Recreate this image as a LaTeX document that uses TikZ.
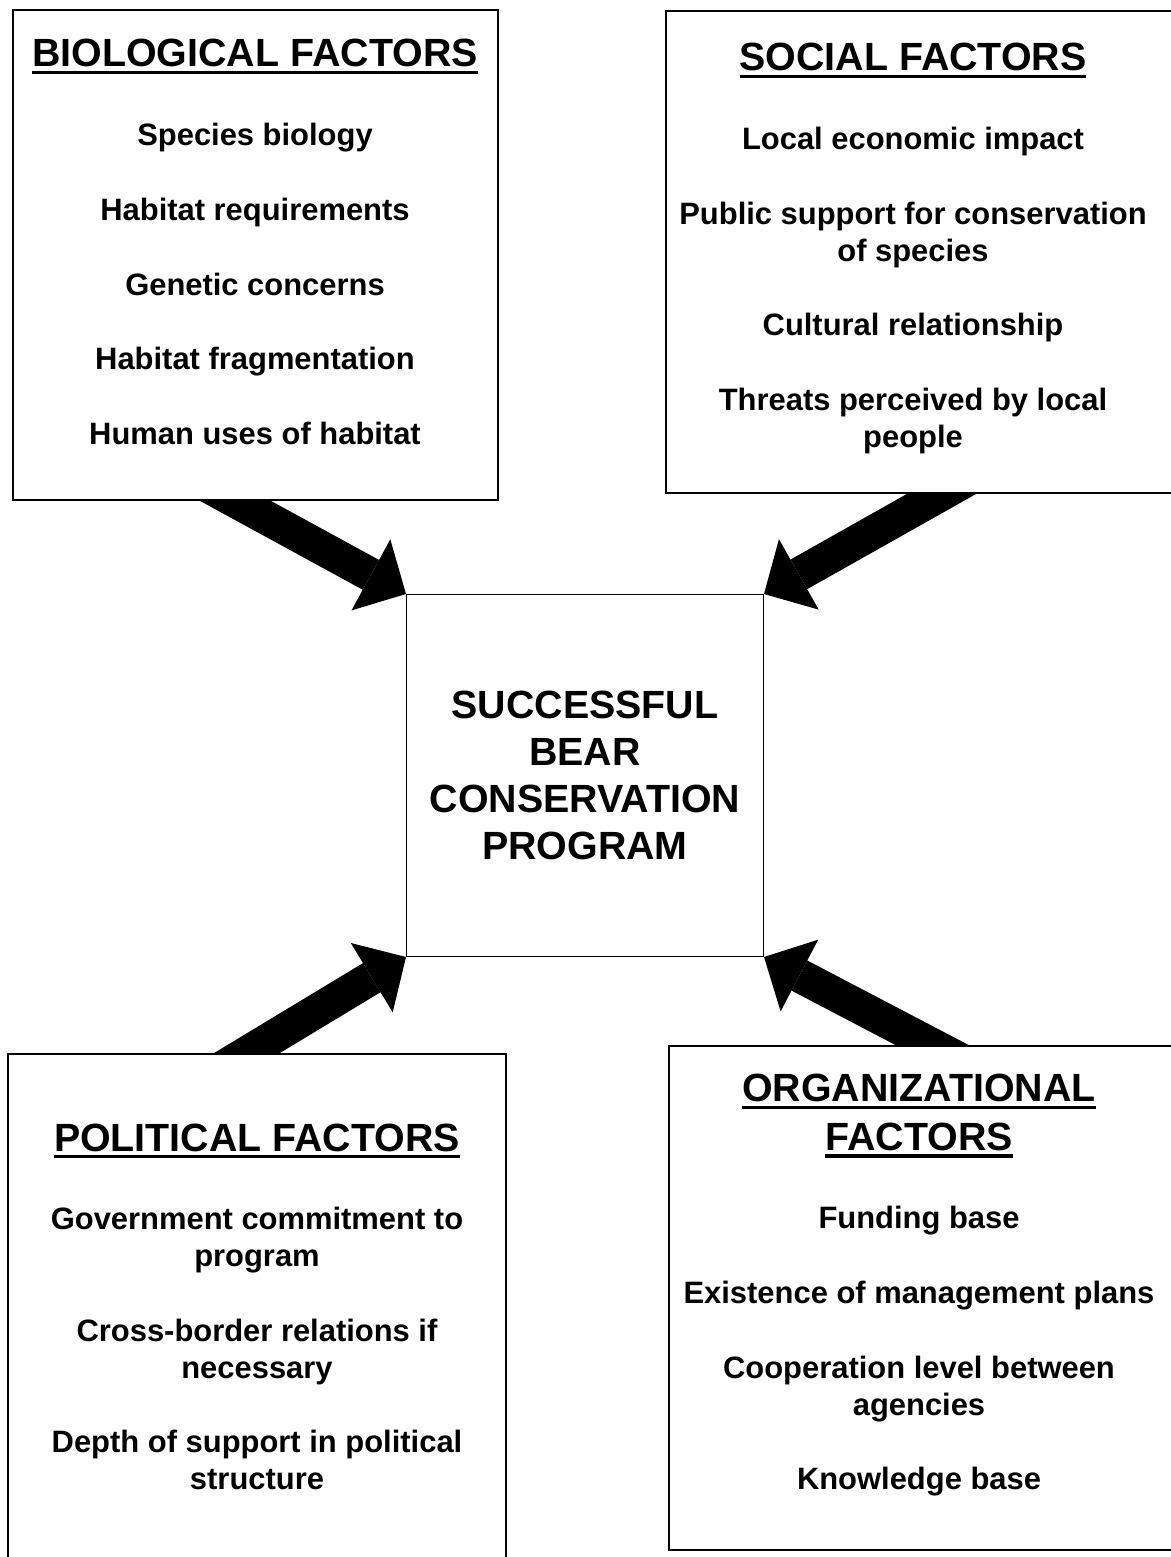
\documentclass[tikz,border=0pt]{standalone}
\usepackage{fontspec}
\setmainfont{Liberation Sans}
\usetikzlibrary{arrows.meta,positioning,calc,backgrounds}
\tikzset{box/.style={draw, fill=white, line width=1pt, inner sep=0pt}}
\tikzset{fatarrow/.style={line width=0.68cm, -{Triangle[length=0.8cm,width=1.62cm,line width=0pt]}}}
\tikzset{head/.style={font=\bfseries\fontsize{22.4}{27.8}\selectfont, align=center, inner sep=0pt}}
\tikzset{items/.style={font=\bfseries\fontsize{17.6}{21}\selectfont, align=center, inner sep=0pt}}
\newlength{\itemgap}
\setlength{\itemgap}{21.5pt}
\newcommand{\hdline}[1]{\setbox0=\hbox{#1}\rlap{\vrule width\wd0 height -2.1pt depth 4pt}\box0}

\begin{document}
\begin{tikzpicture}[x=0.02cm, y=-0.02cm]
    \useasboundingbox (0,0) rectangle (1170,1557);

    % the five boxes
    \node(bio)[box, minimum width=9.7cm, minimum height=9.8cm, anchor=north west] at (12,9) {};
    \node(social)[box, minimum width=11cm, minimum height=9.64cm, anchor=north west] at (665,10) {};
    \node(centre)[box, line width=0.6pt, minimum width=7.14cm, minimum height=7.24cm, anchor=north west] at (406,594) {};
    \node(pol)[box, minimum width=9.96cm, minimum height=10.8cm, anchor=north west] at (7,1053) {};
    \node(org)[box, minimum width=11cm, minimum height=10.08cm, anchor=north west] at (668,1045) {};

    % where the arrows leave the boxes
    \coordinate (bioOut) at ($(bio.south west)+(223,0)$);
    \coordinate (socOut) at ($(social.south west)+(277,0)$);
    \coordinate (polOut) at ($(pol.north west)+(240,0)$);
    \coordinate (orgOut) at ($(org.north west)+(264,0)$);

    \begin{scope}[on background layer]
        \draw[fatarrow] ($(centre.north west)!1.25!(bioOut)$) -- (centre.north west);
        \draw[fatarrow] ($(centre.north east)!1.25!(socOut)$) -- (centre.north east);
        \draw[fatarrow] ($(centre.south west)!1.25!(polOut)$) -- (centre.south west);
        \draw[fatarrow] ($(centre.south east)!1.25!(orgOut)$) -- (centre.south east);
    \end{scope}

    % texts
    \node(bioTitle)[head, anchor=base] at (255,67) {\hdline{BIOLOGICAL FACTORS}};
    \node(bioList)[items, anchor=north] at (255,123) {Species biology\\[\itemgap]
        Habitat requirements\\[\itemgap] Genetic concerns\\[\itemgap]
        Habitat fragmentation\\[\itemgap] Human uses of habitat};

    \node(socTitle)[head, anchor=base] at (913,71) {\hdline{SOCIAL FACTORS}};
    \node(socList)[items, anchor=north] at (913,127) {Local economic impact\\[\itemgap]
        Public support for conservation\\ of species\\[\itemgap]
        Cultural relationship\\[\itemgap] Threats perceived by local\\ people};

    \node(centreText)[head, font=\bfseries\fontsize{22.4}{26.6}\selectfont] at (centre.center)
        {SUCCESSFUL\\ BEAR\\ CONSERVATION\\ PROGRAM};

    \node(polTitle)[head, anchor=base] at (257,1151) {\hdline{POLITICAL FACTORS}};
    \node(polList)[items, anchor=north] at (257,1207) {Government commitment to\\ program\\[\itemgap]
        Cross-border relations if\\ necessary\\[\itemgap]
        Depth of support in political\\ structure};

    \node(orgTitle)[head, anchor=north] at (919,1074) {\hdline{ORGANIZATIONAL}\\ \hdline{FACTORS}};
    \node(orgList)[items, anchor=north] at (919,1206) {Funding base\\[\itemgap]
        Existence of management plans\\[\itemgap]
        Cooperation level between\\ agencies\\[\itemgap] Knowledge base};
\end{tikzpicture}
\end{document}
